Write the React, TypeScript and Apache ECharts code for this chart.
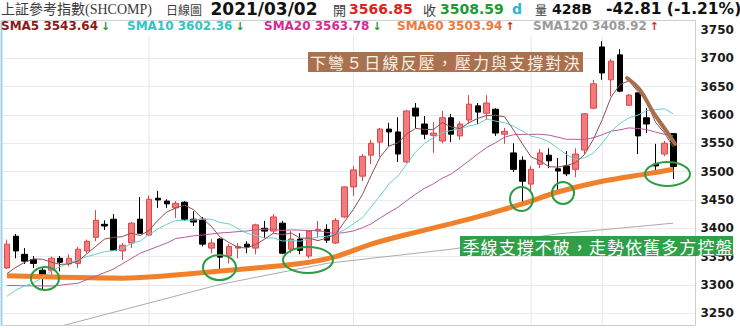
import React, { useEffect, useRef } from "react";
import * as echarts from "echarts";

const categories = [
  "2020/11/09","2020/11/10","2020/11/11","2020/11/12","2020/11/13","2020/11/16","2020/11/17","2020/11/18","2020/11/19","2020/11/20","2020/11/23","2020/11/24","2020/11/25","2020/11/26","2020/11/27","2020/11/30",
  "2020/12/01","2020/12/02","2020/12/03","2020/12/04","2020/12/07","2020/12/08","2020/12/09","2020/12/10","2020/12/11","2020/12/14","2020/12/15","2020/12/16","2020/12/17","2020/12/18","2020/12/21","2020/12/22","2020/12/23","2020/12/24","2020/12/25","2020/12/28","2020/12/29","2020/12/30","2020/12/31",
  "2021/01/04","2021/01/05","2021/01/06","2021/01/07","2021/01/08","2021/01/11","2021/01/12","2021/01/13","2021/01/14","2021/01/15","2021/01/18","2021/01/19","2021/01/20","2021/01/21","2021/01/22","2021/01/25","2021/01/26","2021/01/27","2021/01/28","2021/01/29",
  "2021/02/01","2021/02/02","2021/02/03","2021/02/04","2021/02/05","2021/02/08","2021/02/09","2021/02/10","2021/02/18","2021/02/19","2021/02/22","2021/02/23","2021/02/24","2021/02/25","2021/02/26",
  "2021/03/01","2021/03/02","2021/03/03","2021/03/04",
];

const opens = [
  3330,3386,3354,3345,3326,3326,3347,3337,3338,3360,
  3384,3407,3416,3360,3374,3416,3388,3453,3448,3436,
  3446,3416,3416,3365,3381,3351,3365,3372,3365,3400,
  3395,3409,3363,3381,3351,3395,3398,3374,3420,3473,
  3492,3529,3552,3575,3570,3517,3612,3584,3564,3554,
  3595,3563,3591,3616,3603,3610,3566,3533,3520,3478,
  3513,3529,3505,3510,3504,3538,3612,3720,3662,3706,
  3617,3639,3595,3513,3531,3567,
];
const closes = [
  3372,3360,3342,3338,3314,3347,3340,3347,3363,3377,
  3414,3404,3361,3370,3409,3391,3451,3450,3443,3444,
  3416,3411,3372,3374,3349,3368,3368,3367,3406,3395,
  3420,3356,3381,3361,3395,3398,3379,3414,3473,3503,
  3527,3550,3575,3570,3531,3607,3598,3566,3568,3595,
  3566,3584,3619,3605,3621,3568,3571,3504,3483,3504,
  3533,3519,3501,3496,3531,3602,3655,3674,3695,3642,
  3635,3563,3584,3510,3550,3509,
];
const lows = [
  3328,3347,3337,3330,3292,3314,3324,3333,3330,3356,
  3377,3397,3360,3344,3365,3390,3386,3436,3436,3418,
  3413,3404,3368,3356,3326,3338,3347,3356,3354,3383,
  3391,3354,3356,3354,3347,3383,3374,3372,3418,3457,
  3483,3513,3526,3545,3517,3515,3577,3557,3533,3550,
  3552,3556,3584,3584,3591,3563,3549,3499,3446,3466,
  3506,3506,3464,3492,3490,3531,3610,3662,3633,3640,
  3616,3531,3568,3501,3527,3487,
];
const highs = [
  3380,3390,3365,3351,3330,3350,3351,3354,3367,3380,
  3432,3414,3425,3374,3411,3455,3458,3466,3451,3448,
  3448,3430,3420,3381,3383,3372,3374,3377,3408,3413,
  3425,3413,3395,3391,3397,3413,3407,3418,3474,3510,
  3531,3556,3577,3586,3596,3609,3621,3598,3587,3607,
  3602,3589,3635,3621,3635,3612,3577,3550,3527,3510,
  3540,3541,3524,3536,3541,3603,3662,3730,3699,3716,
  3637,3639,3612,3549,3554,3568,
];

const sma5 = [
  3320,3331,3340,3346,3345.2,3340.2,3336.2,3337.2,3342.2,3354.8,
  3368.2,3381.0,3383.8,3385.2,3391.6,3387.0,3396.4,3414.2,3428.8,3435.8,
  3440.8,3432.8,3417.2,3403.4,3384.4,3374.8,3366.2,3365.2,3371.6,3380.8,
  3391.2,3388.8,3391.6,3382.6,3382.6,3378.2,3382.8,3389.4,3411.8,3433.4,
  3459.2,3493.4,3525.6,3545.0,3550.6,3566.6,3576.2,3574.4,3574.0,3586.8,
  3578.6,3575.8,3586.4,3593.8,3599.0,3599.4,3596.8,3573.8,3549.4,3526.0,
  3519.0,3508.6,3508.0,3510.6,3516.0,3529.8,3557.0,3591.6,3631.4,3653.6,
  3660.2,3641.8,3623.8,3586.8,3568.4,3543.2,
];
const sma10 = [
  3280,3291,3298,3304,3313,3325,3332,3339,3344,3350.0,
  3354.2,3358.6,3360.5,3363.7,3373.2,3377.6,3388.7,3399.0,3407.0,3413.7,
  3413.9,3414.6,3415.7,3416.1,3410.1,3407.8,3399.5,3391.2,3387.5,3382.6,
  3383.0,3377.5,3378.4,3377.1,3381.7,3384.7,3385.8,3390.5,3397.2,3408.0,
  3418.7,3438.1,3457.5,3478.4,3492.0,3512.9,3534.8,3550.0,3559.5,3568.7,
  3572.6,3576.0,3580.4,3583.9,3592.9,3589.0,3586.3,3580.1,3571.6,3562.5,
  3559.2,3552.7,3540.9,3530.0,3521.0,3524.4,3532.8,3549.8,3571.0,3584.8,
  3595.0,3599.4,3607.7,3609.1,3611.0,3601.7,
];
const sma20 = [
  3299,null,null,null,null,3298,null,null,3303,null,
  null,null,3328,null,null,3356,null,null,3374,3381.9,
  3384.1,3386.6,3388.1,3389.9,3391.7,3392.7,3394.1,3395.1,3397.3,3398.2,
  3398.5,3396.1,3397.1,3396.6,3395.9,3396.3,3392.7,3390.9,3392.4,3395.3,
  3400.9,3407.8,3418.0,3427.8,3436.9,3448.8,3460.3,3470.3,3478.4,3488.4,
  3495.7,3507.1,3519.0,3531.2,3542.5,3551.0,3560.6,3565.1,3565.6,3565.6,
  3565.9,3564.4,3560.7,3557.0,3557.0,3556.7,3559.6,3565.0,3571.3,3573.7,
  3577.1,3576.1,3574.3,3569.6,3566.0,3563.1,
];
const sma60 = [
  ["2020/11/09",3316],["2020/11/26",3312],["2020/12/14",3326],["2020/12/24",3338],
  ["2020/12/30",3350],["2021/01/06",3372],["2021/01/12",3389],
  ["2021/01/21",3416],["2021/01/29",3443],["2021/02/04",3464],["2021/02/18",3483],
  ["2021/02/25",3496],["2021/03/02",3504],
];
const sma120 = [
  ["2020/11/17",3227],["2020/12/11",3301],["2020/12/29",3338],["2021/01/19",3363],
  ["2021/02/04",3390],["2021/03/02",3409],
];
const monthLines = ["2020/12/01","2021/01/04","2021/02/01","2021/02/18"];

const smaNames = ["SMA5","SMA10","SMA20","SMA60","SMA120"];
const smaLast = ["3543.64","3602.36","3563.78","3503.94","3408.92"];
const smaUp = [false,false,false,true,true];

const titleText = "上証參考指數(SHCOMP)";
const periodText = "日線圖";
const dateText = "2021/03/02";
const openText = "3566.85";
const closeText = "3508.59";
const volText = "428B";
const changeText = "-42.81 (-1.21%)";
const note1 = "下彎５日線反壓，壓力與支撐對決";
const note2 = "季線支撐不破，走勢依舊多方控盤";

const SANS = '"DejaVu Sans", Verdana, sans-serif';
const CJK = '"Noto Sans CJK TC", "Noto Sans CJK SC", sans-serif';

function txt(text: string, x: number, y: number, font: string, fill: string, align = "left", z = 62) {
  return {
    type: "text", x, y, z,
    style: { text, font, fill, align, verticalAlign: "middle", textAlign: align, textVerticalAlign: "middle" },
  };
}

export default function App() {
  const ref = useRef<HTMLDivElement>(null);
  useEffect(() => {
    const chart = echarts.init(ref.current!, null, { renderer: "svg" });
    const candleData = categories.map((_, i) =>
      opens[i] == null ? "-" : [opens[i], closes[i], lows[i], highs[i]]
    );
    const lineIdx = monthLines.map((d) => categories.indexOf(d));

    const smaColors = ["#8B1A1A", "#33C3C3", "#D02E93", "#EC7A3C", "#9A9A9A"];
    const legendX = [1, 127, 264, 397, 533];
    const legendW = [97, 105.4, 105.4, 105.4, 113.8];

    const elements: any[] = [
      { type: "rect", z: 50, shape: { x: 0, y: 0, width: 740, height: 20 }, style: { fill: "#fff" } },
      { type: "rect", z: 50, shape: { x: 2, y: 21, width: 693, height: 15 }, style: { fill: "#fff" } },
      { type: "rect", z: 50, shape: { x: 0, y: 326, width: 740, height: 2 }, style: { fill: "#fff" } },
      { type: "rect", z: 51, shape: { x: 1.5, y: 20.5, width: 694, height: 305 }, style: { fill: "none", stroke: "#cfcfcf", lineWidth: 1 } },
      { type: "line", z: 52, shape: { x1: 1.5, y1: 20.5, x2: 1.5, y2: 325.5 }, style: { stroke: "#a6cfe6", lineWidth: 2 } },
      txt(titleText, 1, 9, `14px "Liberation Serif", ${CJK}`, "#3a3a3a"),
      txt(periodText, 166, 9, `12px ${CJK}`, "#3a3a3a"),
      txt(dateText, 264, 9, `bold 17px ${SANS}`, "#111", "center"),
      txt("開", 333, 9.5, `13px ${CJK}`, "#3a3a3a"),
      txt(openText, 349, 9, `bold 14px ${SANS}`, "#E3211C"),
      txt("收", 423, 9.5, `13px ${CJK}`, "#3a3a3a"),
      txt(closeText, 440, 9, `bold 14px ${SANS}`, "#1E9A35"),
      txt("d", 512, 9, `bold 14px ${SANS}`, "#2AB3DA"),
      txt("量", 535, 9.5, `12px ${CJK}`, "#3a3a3a"),
      txt(volText, 552, 9, `bold 14px ${SANS}`, "#111"),
      txt(changeText, 606, 9, `bold 15.5px ${SANS}`, "#111"),
    ];
    smaNames.forEach((n, i) => {
      elements.push(txt(`${n} ${smaLast[i]}`, legendX[i], 26, `bold 12px ${SANS}`, smaColors[i]));
      elements.push(
        txt(smaUp[i] ? "↑" : "↓", legendX[i] + legendW[i] + 3, 26, `bold 11px ${SANS}`, smaUp[i] ? "#E3211C" : "#1E9A35")
      );
    });

    // annotation boxes
    elements.push({ type: "rect", z: 60, shape: { x: 308, y: 52, width: 275, height: 20 }, style: { fill: "#A8714F" } });
    Array.from(note1).forEach((ch, i) => {
      elements.push(txt(ch, 318 + i * 18.1, 62, `16px ${CJK}`, "#FBF0E4", "center", 61));
    });
    elements.push({ type: "rect", z: 60, shape: { x: 460, y: 236, width: 273, height: 20 }, style: { fill: "#2FA047" } });
    Array.from(note2).forEach((ch, i) => {
      elements.push(txt(ch, 471 + i * 18.07, 246, `17px ${CJK}`, "#ffffff", "center", 61));
    });

    const ellipses = [
      [45, 278.5, 14, 11.5],
      [219.5, 267.5, 16.5, 12.5],
      [308, 260, 25, 13],
      [521.5, 199, 11.5, 12],
      [563, 193, 11, 11],
      [667.5, 174, 22.5, 12],
    ];
    ellipses.forEach(([cx, cy, rx, ry]) => {
      elements.push({ type: "ellipse", z: 60, shape: { cx, cy, rx, ry }, style: { fill: "none", stroke: "#2E9B45", lineWidth: 2 } });
    });
    elements.push({
      type: "polyline", z: 60,
      shape: { points: [[627, 78], [640, 90], [653, 112], [667, 132], [675, 144]], smooth: 0.4 },
      style: { stroke: "#A86E4E", lineWidth: 4, lineCap: "round", fill: "none" },
    });

    const option: any = {
      animation: false,
      backgroundColor: "#fff",
      grid: { left: 2.5, top: 1.6, width: 693, height: 340, containLabel: false, outerBoundsMode: "none" },
      xAxis: {
        type: "category", data: categories, boundaryGap: true,
        axisLine: { show: false }, axisTick: { show: false }, axisLabel: { show: false }, splitLine: { show: false },
      },
      yAxis: {
        type: "value", position: "right", min: 3200, max: 3800, interval: 50, scale: true,
        axisLine: { show: false }, axisTick: { show: false },
        axisLabel: {
          margin: 5, color: "#1a1a1a", fontWeight: "bold", fontSize: 12, fontFamily: "DejaVu Sans",
          formatter: (v: number) => (v < 3250 || v > 3750 ? "" : String(v)),
        },
        splitLine: { lineStyle: { color: "#ebebeb", width: 1 } },
      },
      series: [
        {
          type: "custom", z: 1, silent: true,
          data: lineIdx.map((i) => [i]),
          encode: { x: 0 },
          renderItem: (params: any, api: any) => {
            const x = api.coord([api.value(0), 3500])[0];
            const cs = params.coordSys;
            return { type: "line", shape: { x1: x, y1: cs.y, x2: x, y2: cs.y + cs.height }, style: { stroke: "#e6e6e6", lineWidth: 1 } };
          },
        },
        {
          type: "candlestick", z: 3, barWidth: 6,
          data: candleData,
          itemStyle: { color: "#F47A7C", color0: "#000000", borderColor: "#D9474B", borderColor0: "#000000", borderWidth: 1 },
        },
        { type: "line", z: 4, data: sma120, symbol: "none", lineStyle: { color: "#ababab", width: 1 } },
        { type: "line", z: 4, data: sma60, symbol: "none", smooth: 0.3, lineStyle: { color: "#F0802A", width: 5 } },
        { type: "line", z: 4, data: sma20, symbol: "none", connectNulls: true, lineStyle: { color: "#B45C9C", width: 1 } },
        { type: "line", z: 4, data: sma10, symbol: "none", lineStyle: { color: "#6BCFCF", width: 1 } },
        { type: "line", z: 4, data: sma5, symbol: "none", lineStyle: { color: "#8A5050", width: 1 } },
      ],
      graphic: { elements },
    };
    chart.setOption(option);
    return () => chart.dispose();
  }, []);
  return (
    <div
      ref={ref}
      style={{ position: "absolute", left: 0, top: 0, width: 740, height: 328, background: "#fff" }}
    />
  );
}
